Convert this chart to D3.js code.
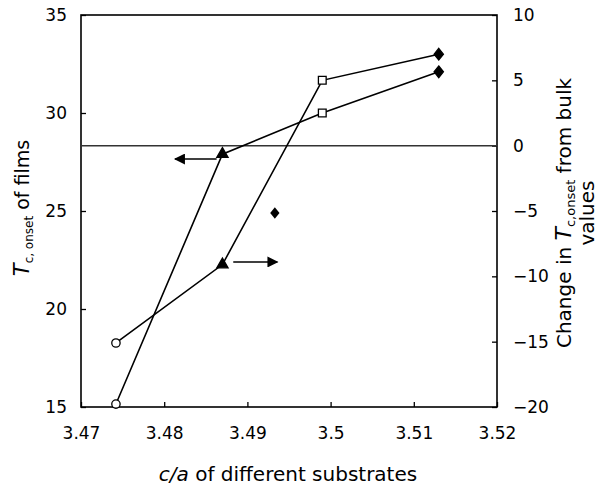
<!DOCTYPE html>
<html>
<head>
<meta charset="utf-8">
<script src="https://cdn.jsdelivr.net/npm/d3@7"></script>
<style>
    body { margin: 0; background: #fff; }
    svg text { font-family: "DejaVu Sans", "Liberation Sans", sans-serif; fill: #000; }
</style>
</head>
<body>
<div id="chart"></div>
<script>

// c/a of the different substrates (one per marker type)
let caValues = [3.4742, 3.487, 3.499, 3.513];
let markerTypes = ["circle", "triangle", "square", "diamond"];

// Tc,onset of films (left axis)
let tcFilms = [15.15, 27.9, 30.0, 32.1];

// change in Tc,onset from bulk values (right axis)
let tcChange = [-15.1, -9.1, 5.0, 7.0];

// single unconnected point (left axis)
let extraCa = [3.4933];
let extraTc = [24.9];

// tick labels
let xTicks = [3.47, 3.48, 3.49, 3.5, 3.51, 3.52];
let leftTicks = [15, 20, 25, 30, 35];
let rightTicks = [-20, -15, -10, -5, 0, 5, 10];


let margin = {top: 15, right: 114, bottom: 80, left: 81},
    width = 611 - margin.left - margin.right,
    height = 487 - margin.top - margin.bottom;

let svg = d3.select("#chart").append("svg")
    .attr("width", 611)
    .attr("height", 487);

let g = svg.append("g")
    .attr("transform", "translate(" + margin.left + "," + margin.top + ")");

// SCALES
let x = d3.scaleLinear()
    .domain([3.47, 3.52])
    .range([0, width]);

let yLeft = d3.scaleLinear()
    .domain([15, 35])
    .range([height, 0]);

let yRight = d3.scaleLinear()
    .domain([-20, 10])
    .range([height, 0]);

// AXES (ticks point inward)
let xAxis = d3.axisBottom(x)
    .tickValues(xTicks)
    .tickFormat(d => String(d))
    .tickSize(-5)
    .tickSizeOuter(0)
    .tickPadding(20);

let leftAxis = d3.axisLeft(yLeft)
    .tickValues(leftTicks)
    .tickSize(-5)
    .tickSizeOuter(0)
    .tickPadding(14);

let rightAxis = d3.axisRight(yRight)
    .tickValues(rightTicks)
    .tickFormat(d => d < 0 ? "\u2212" + Math.abs(d) : String(d))
    .tickSize(-5)
    .tickSizeOuter(0)
    .tickPadding(16);

function styleAxis(sel) {
    sel.select(".domain").remove();
    sel.selectAll("line").attr("stroke", "#000").attr("stroke-width", 1.3);
    sel.selectAll("text").attr("font-size", 17);
}

g.append("g")
    .attr("class", "x-axis axis")
    .attr("transform", "translate(0," + height + ")")
    .call(xAxis)
    .call(styleAxis);

g.append("g")
    .attr("class", "y-axis axis")
    .call(leftAxis)
    .call(styleAxis);

g.append("g")
    .attr("class", "y2-axis axis")
    .attr("transform", "translate(" + width + ",0)")
    .call(rightAxis)
    .call(styleAxis);

// frame
g.append("rect")
    .attr("width", width)
    .attr("height", height)
    .attr("fill", "none")
    .attr("stroke", "#000")
    .attr("stroke-width", 1.6);

// zero line of the right axis
g.append("line")
    .attr("x1", 0)
    .attr("x2", width)
    .attr("y1", yRight(0))
    .attr("y2", yRight(0))
    .attr("stroke", "#333")
    .attr("stroke-width", 1.5);

// ---- LINES ----
let filmsLine = d3.line()
    .x((d, i) => x(caValues[i]))
    .y(d => yLeft(d));

let changeLine = d3.line()
    .x((d, i) => x(caValues[i]))
    .y(d => yRight(d));

g.append("path")
    .attr("d", filmsLine(tcFilms))
    .attr("fill", "none")
    .attr("stroke", "#000")
    .attr("stroke-width", 1.6);

g.append("path")
    .attr("d", changeLine(tcChange))
    .attr("fill", "none")
    .attr("stroke", "#000")
    .attr("stroke-width", 1.6);

// ---- MARKERS ----
// diamond a bit wider than d3's own
let wideDiamond = {
    draw: function(context, size) {
        let h = Math.sqrt(size) * 0.75, w = h * 0.8;
        context.moveTo(0, -h);
        context.lineTo(w, 0);
        context.lineTo(0, h);
        context.lineTo(-w, 0);
        context.closePath();
    }
};

let symbolFor = {
    circle: d3.symbol().type(d3.symbolCircle).size(55),
    triangle: d3.symbol().type(d3.symbolTriangle).size(55),
    square: d3.symbol().type(d3.symbolSquare).size(60),
    diamond: d3.symbol().type(wideDiamond).size(60)
};
let filled = {circle: false, triangle: true, square: false, diamond: true};

function drawMarkers(values, scale) {
    g.selectAll(null)
        .data(values)
        .enter()
        .append("path")
        .attr("d", (d, i) => symbolFor[markerTypes[i]]())
        .attr("transform", (d, i) => "translate(" + x(caValues[i]) + "," + scale(d) + ")")
        .attr("fill", (d, i) => filled[markerTypes[i]] ? "#000" : "#fff")
        .attr("stroke", "#000")
        .attr("stroke-width", 1.3);
}
drawMarkers(tcFilms, yLeft);
drawMarkers(tcChange, yRight);

g.selectAll(null)
    .data(extraTc)
    .enter()
    .append("path")
    .attr("d", symbolFor.diamond())
    .attr("transform", (d, i) => "translate(" + x(extraCa[i]) + "," + yLeft(d) + ")")
    .attr("fill", "#000");

// ---- ARROWS (which axis each curve belongs to) ----
svg.append("defs").append("marker")
    .attr("id", "head")
    .attr("viewBox", "0 0 10 10")
    .attr("refX", 9)
    .attr("refY", 5)
    .attr("markerUnits", "userSpaceOnUse")
    .attr("markerWidth", 13)
    .attr("markerHeight", 11)
    .attr("orient", "auto")
    .append("path")
    .attr("d", "M0,0L10,5L0,10Z")
    .attr("fill", "#000");

g.append("line")
    .attr("x1", x(3.4863)).attr("y1", yLeft(27.65))
    .attr("x2", x(3.4813)).attr("y2", yLeft(27.65))
    .attr("stroke", "#000").attr("stroke-width", 1.5)
    .attr("marker-end", "url(#head)");

g.append("line")
    .attr("x1", x(3.4883)).attr("y1", yRight(-8.9))
    .attr("x2", x(3.4936)).attr("y2", yRight(-8.9))
    .attr("stroke", "#000").attr("stroke-width", 1.5)
    .attr("marker-end", "url(#head)");

// ---- AXIS TITLES ----
let xTitle = svg.append("text")
    .attr("x", 288)
    .attr("y", 481)
    .attr("text-anchor", "middle")
    .attr("font-size", 20);
xTitle.append("tspan").attr("font-style", "italic").text("c/a");
xTitle.append("tspan").text(" of different substrates");

let leftTitle = svg.append("text")
    .attr("transform", "translate(29," + 208 + ") rotate(-90)")
    .attr("text-anchor", "middle")
    .attr("font-size", 19);
leftTitle.append("tspan").attr("font-style", "italic").attr("font-size", 21).text("T");
leftTitle.append("tspan").attr("font-size", 12).attr("dy", 4).text("c, onset");
leftTitle.append("tspan").attr("dy", -4).text(" of films");

let rightTitle = svg.append("text")
    .attr("transform", "translate(571," + 213 + ") rotate(-90)")
    .attr("text-anchor", "middle")
    .attr("font-size", 20);
rightTitle.append("tspan").text("Change in ");
rightTitle.append("tspan").attr("font-style", "italic").attr("font-size", 22).text("T");
rightTitle.append("tspan").attr("font-size", 13).attr("dy", 4).text("c,onset");
rightTitle.append("tspan").attr("dy", -4).text(" from bulk");

svg.append("text")
    .attr("transform", "translate(594," + 213 + ") rotate(-90)")
    .attr("text-anchor", "middle")
    .attr("font-size", 20)
    .text("values");

</script>
</body>
</html>
